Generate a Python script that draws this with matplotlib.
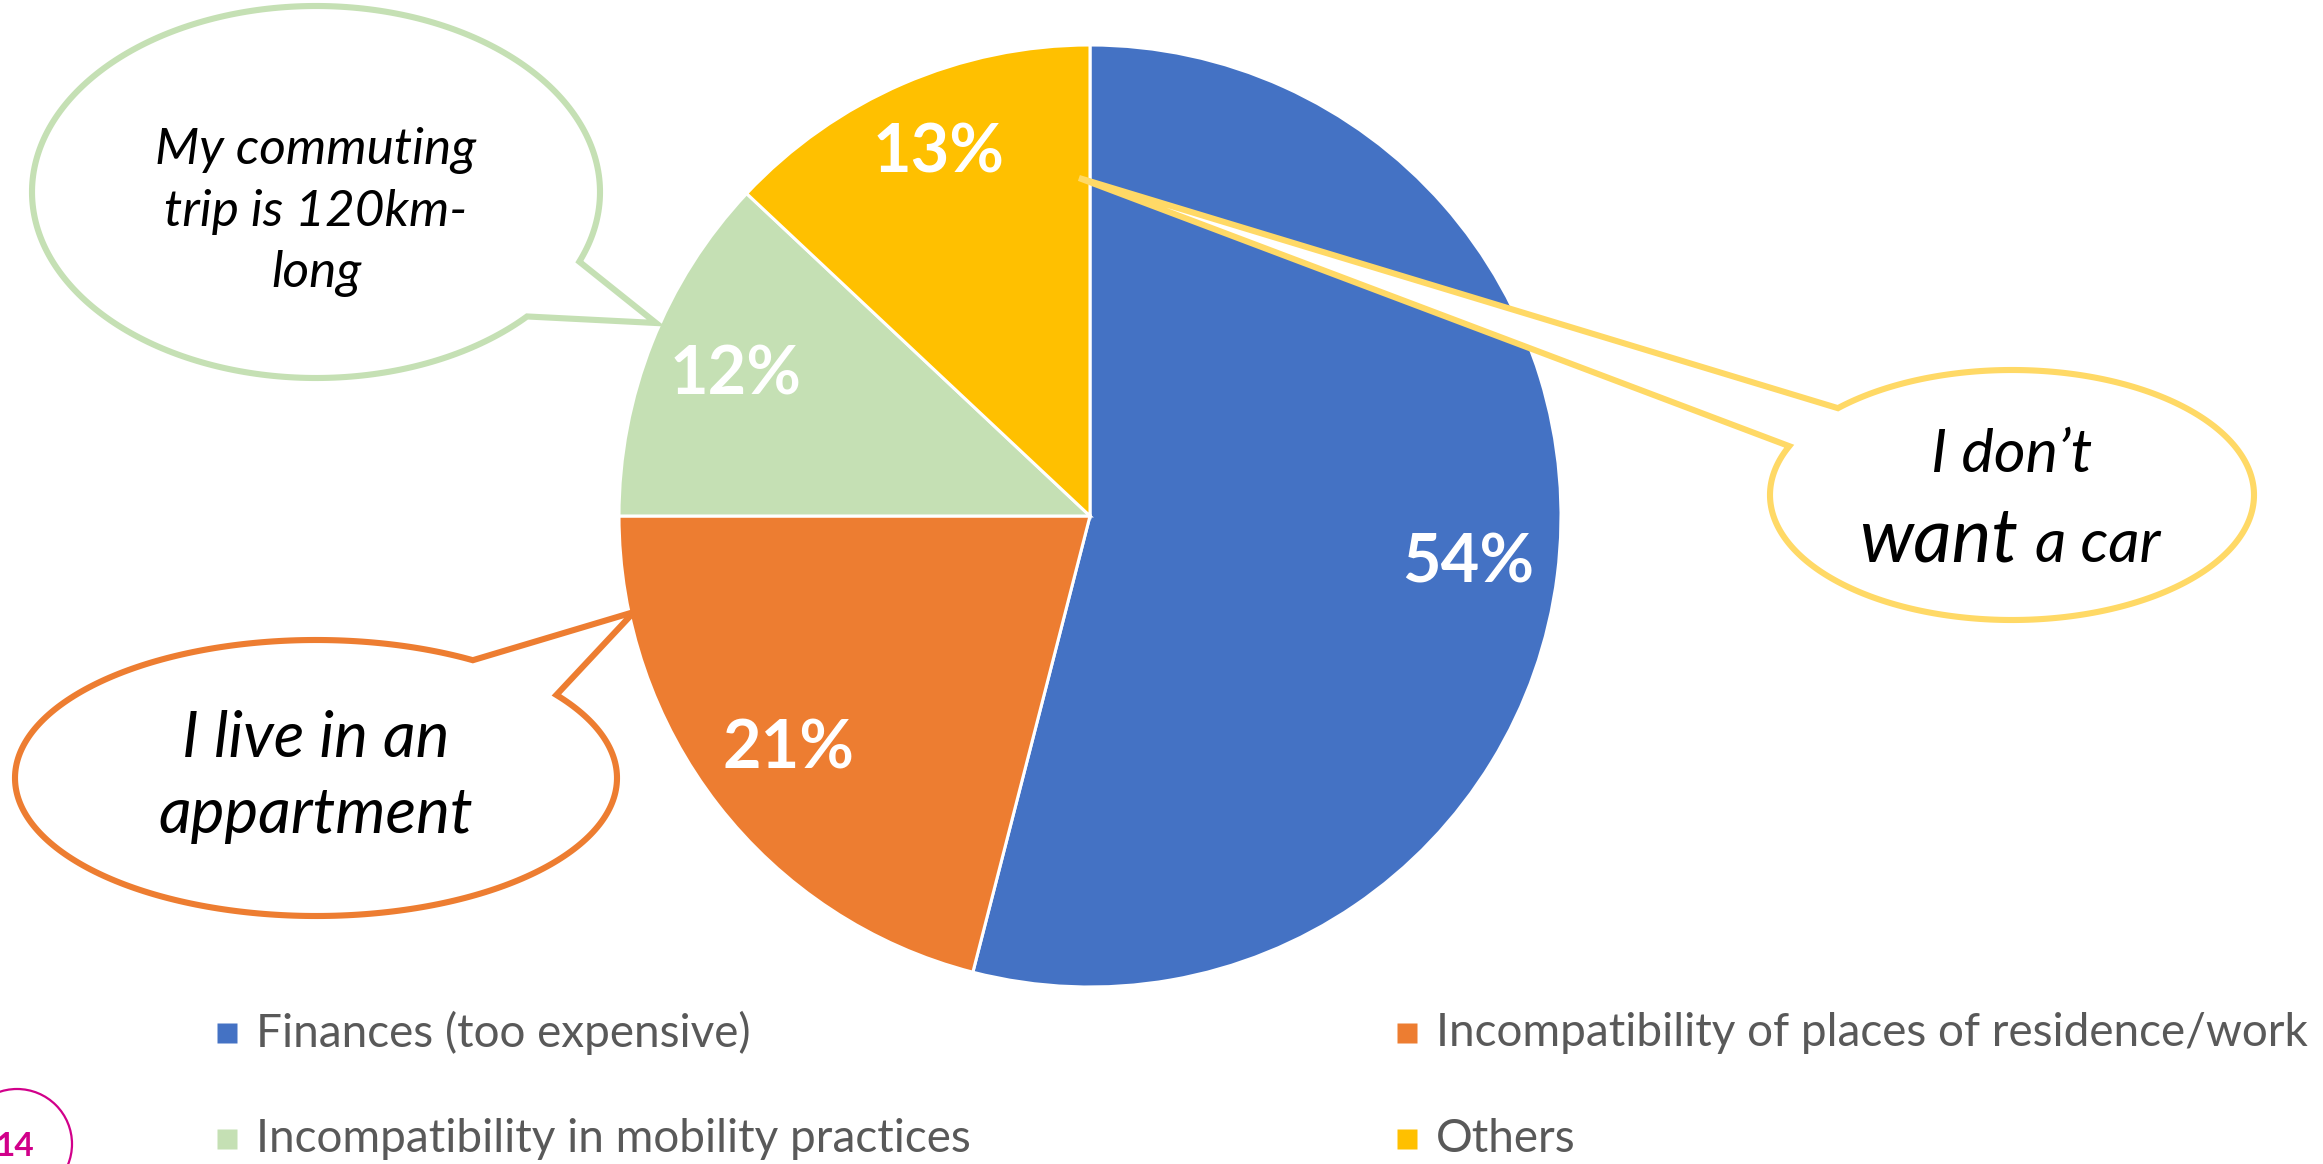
import numpy as np
import matplotlib.pyplot as plt
from matplotlib.patches import Polygon, Circle

plt.rcParams["font.family"] = ["Lato", "DejaVu Sans"]

# reasons given for not owning a car (share of respondents, %)
reasons = [
    "Finances (too expensive)",
    "Incompatibility of places of residence/work",
    "Incompatibility in mobility practices",
    "Others",
]
shares = [54, 21, 12, 13]
colors = ["#4472C4", "#ED7D31", "#C5E0B4", "#FFC000"]

# quotes shown in speech bubbles, one per reason
quote_green = "My commuting\ntrip is 120km-\nlong"
quote_orange = "I live in an\nappartment"
quote_yellow = ("I don\u2019t", "want", "a car")

page_number = "14"

W, H = 2323, 1164


def bubble(ax, cx, cy, a, b, t1, t2, tip, color):
    """Ellipse with a pointed tail; the tail leaves the ellipse between t1 and t2 (deg)."""
    t = np.radians(np.linspace(t2, t1 + 360, 300))
    pts = np.column_stack([cx + a * np.cos(t), cy + b * np.sin(t)])
    pts = np.vstack([pts, tip])
    ax.add_patch(Polygon(pts, closed=True, facecolor="white", edgecolor=color,
                         lw=4.4, joinstyle="miter", zorder=5))


fig = plt.figure(figsize=(W / 100, H / 100), dpi=100)
ax = fig.add_axes([0, 0, 1, 1])

# pie, clockwise from 12 o'clock (y axis runs downwards)
wedges, _, autotexts = ax.pie(
    shares, colors=colors, startangle=-90, counterclock=True,
    center=(1090, 516), radius=471, frame=True,
    autopct=lambda p: f"{p:.0f}%", pctdistance=0.81,
    wedgeprops=dict(edgecolor="white", linewidth=2.2),
    textprops=dict(color="white", fontsize=48, fontweight="bold"),
)
for t in autotexts:
    t.set_zorder(4)
# the small top slice carries its label a little further out
autotexts[3].set_y(autotexts[3].get_position()[1] - 12)

ax.set_xlim(0, W)
ax.set_ylim(H, 0)
ax.set_aspect("equal")
ax.axis("off")

# speech bubbles
bubble(ax, 316, 192, 284, 186, 22, 42, (656, 323), "#C5E0B4")
ax.text(316, 212, quote_green, ha="center", va="center", fontsize=37,
        style="italic", linespacing=1.4, zorder=6)

bubble(ax, 316, 778, 301, 138, -58.6, -37, (634, 612), "#ED7D31")
ax.text(316, 777, quote_orange, ha="center", va="center", fontsize=46,
        style="italic", linespacing=1.4, zorder=6)

bubble(ax, 2012, 495, 242, 125, -157, -136, (1079, 178), "#FFD966")
ax.text(2012, 472, quote_yellow[0], ha="center", va="baseline", fontsize=44,
        style="italic", zorder=6)
ax.text(2018, 562, quote_yellow[1], ha="right", va="baseline", fontsize=54,
        style="italic", zorder=6)
ax.text(2035, 562, quote_yellow[2], ha="left", va="baseline", fontsize=44,
        style="italic", zorder=6)

# legend, two columns
col_x = [227, 1407]
row_y = [1033, 1139]
for i, (label, c) in enumerate(zip(reasons, colors)):
    x, y = col_x[i % 2], row_y[i // 2]
    ax.plot(x, y, marker="s", ms=15, color=c, mec="none", clip_on=False)
    ax.text(x + 29, y, label, ha="left", va="center", fontsize=33, color="#595959")

# page number badge
ax.add_patch(Circle((17, 1144), 55, facecolor="none", edgecolor="#D1008A", lw=1.6,
                    clip_on=False))
ax.text(15, 1146, page_number, ha="center", va="center", fontsize=24,
        fontweight="bold", color="#D1008A")

fig.savefig("out.png", dpi=100)
